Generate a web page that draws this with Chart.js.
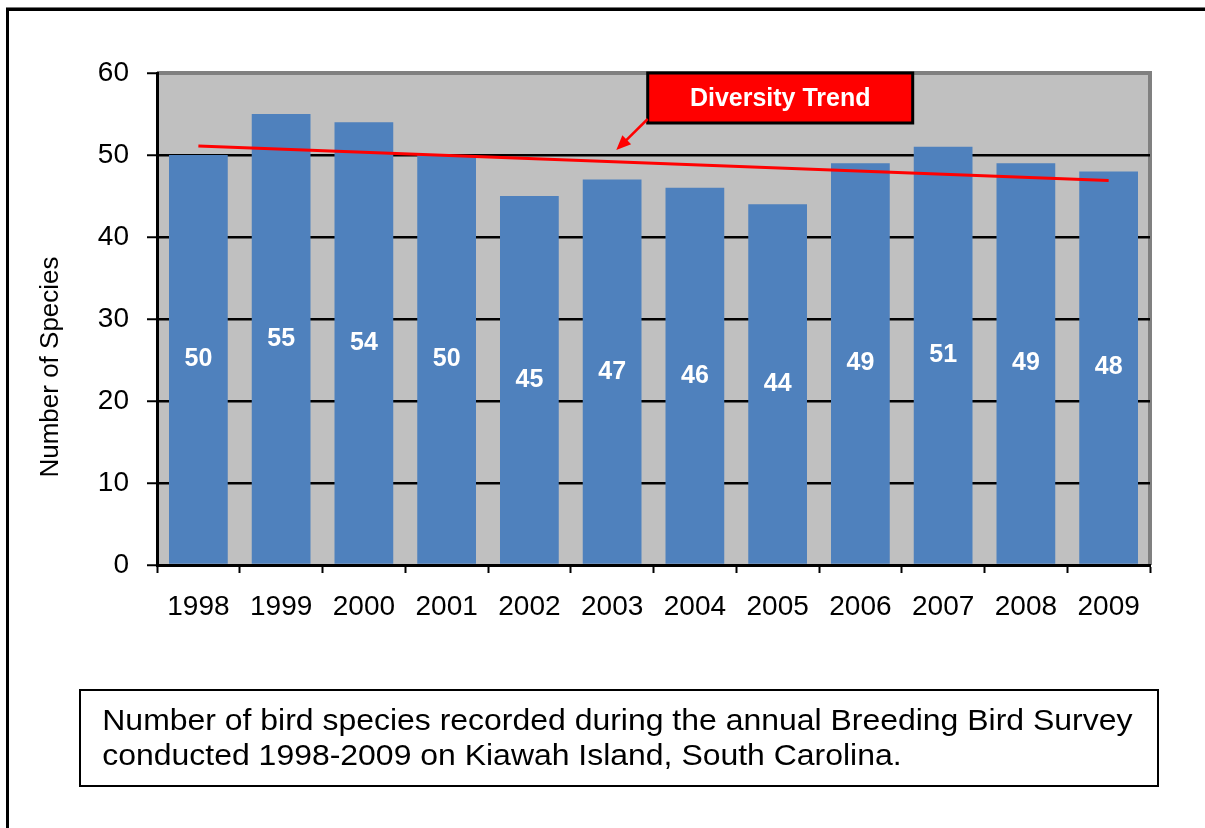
<!DOCTYPE html>
<html>
<head>
<meta charset="utf-8">
<script src="https://cdn.jsdelivr.net/npm/chart.js@4.4.1/dist/chart.umd.min.js"></script>
<style>
  body { margin:0; background:#fff; font-family:"Liberation Sans", Arial, sans-serif; }
  #wrap { position:absolute; left:0; top:0; width:1205px; height:828px; }
  #frame { position:absolute; left:6px; top:8px; width:1300px; height:900px; border-left:3px solid #000; border-top:3px solid #000; box-shadow:0 -1px 0 #777; }
  #caption { position:absolute; left:79px; top:689px; width:1076px; height:94px; border:2px solid #000;
             box-sizing:content-box; font-size:30px; line-height:35px; padding:0; color:#000; }
  #caption div { padding:11px 0 0 20px; transform:scaleX(1.065); transform-origin:0 0; white-space:nowrap; }
</style>
</head>
<body>
<div id="frame"></div>
<div id="wrap"><canvas id="myChart"></canvas></div>
<div id="caption"><div>Number of bird species recorded during the annual Breeding Bird Survey<br>conducted 1998-2009 on Kiawah Island, South Carolina.</div></div>
<script>
const years = ['1998','1999','2000','2001','2002','2003','2004','2005','2006','2007','2008','2009'];
const species = [50, 55, 54, 50, 45, 47, 46, 44, 49, 51, 49, 48];
// trend line ends
const trend = [51.1, null, null, null, null, null, null, null, null, null, null, 46.9];
const yTicks = [0, 10, 20, 30, 40, 50, 60];
const FONT = '"Liberation Sans", Arial, sans-serif';

const plotBg = {
  id: 'plotBg',
  beforeDraw(chart) {
    const {ctx, chartArea: a} = chart;
    ctx.save();
    ctx.fillStyle = '#c0c0c0';
    ctx.fillRect(a.left, a.top, a.right - a.left, a.bottom - a.top);
    ctx.fillStyle = '#808080';
    ctx.fillRect(a.left, a.top - 2, a.right - a.left + 2, 4);
    ctx.fillRect(a.right - 2, a.top - 2, 4, a.bottom - a.top + 2);
    ctx.restore();
  }
};

const yTitle = {
  id: 'yTitle',
  afterDraw(chart) {
    const ctx = chart.ctx;
    ctx.save();
    ctx.translate(51, 367);
    ctx.rotate(-Math.PI / 2);
    ctx.fillStyle = '#000';
    ctx.font = '26px ' + FONT;
    ctx.textAlign = 'center';
    ctx.textBaseline = 'middle';
    ctx.fillText('Number of Species', 0, 0);
    ctx.restore();
  }
};

const barLabels = {
  id: 'barLabels',
  afterDatasetsDraw(chart) {
    const ctx = chart.ctx;
    const meta = chart.getDatasetMeta(0);
    ctx.save();
    ctx.fillStyle = '#fff';
    ctx.font = 'bold 25px ' + FONT;
    ctx.textAlign = 'center';
    ctx.textBaseline = 'middle';
    meta.data.forEach((bar, i) => {
      ctx.fillText(String(species[i]), bar.x, (bar.y + bar.base) / 2);
    });
    ctx.restore();
  }
};

const trendNote = {
  id: 'trendNote',
  afterDraw(chart) {
    const ctx = chart.ctx;
    const x = chart.scales.x, y = chart.scales.y;
    const bx = x.getPixelForValue(5.43), bw = 265;
    const by = y.getPixelForValue(60), bh = 50;
    ctx.save();
    ctx.fillStyle = '#ff0000';
    ctx.fillRect(bx, by, bw, bh);
    ctx.strokeStyle = '#000';
    ctx.lineWidth = 3;
    ctx.strokeRect(bx, by, bw, bh);
    ctx.fillStyle = '#fff';
    ctx.font = 'bold 25px ' + FONT;
    ctx.textAlign = 'center';
    ctx.textBaseline = 'middle';
    ctx.fillText('Diversity Trend', bx + bw / 2, by + bh / 2 + 1);
    // arrow
    const x0 = bx, y0 = by + bh - 4;
    const x1 = x.getPixelForValue(5.05), y1 = y.getPixelForValue(50.6);
    ctx.strokeStyle = '#ff0000';
    ctx.lineWidth = 2.5;
    ctx.beginPath(); ctx.moveTo(x0, y0); ctx.lineTo(x1 + 6, y1 - 6); ctx.stroke();
    const ang = Math.atan2(y1 - y0, x1 - x0);
    ctx.fillStyle = '#ff0000';
    ctx.beginPath();
    ctx.moveTo(x1, y1);
    ctx.lineTo(x1 - 16 * Math.cos(ang - 0.4), y1 - 16 * Math.sin(ang - 0.4));
    ctx.lineTo(x1 - 16 * Math.cos(ang + 0.4), y1 - 16 * Math.sin(ang + 0.4));
    ctx.closePath(); ctx.fill();
    ctx.restore();
  }
};

const data = {
  labels: years,
  datasets: [
    {
      type: 'bar',
      label: 'Species',
      data: species,
      backgroundColor: '#4f81bd',
      categoryPercentage: 1,
      barPercentage: 0.71,
      order: 2
    },
    {
      type: 'line',
      label: 'Diversity Trend',
      data: trend,
      spanGaps: true,
      borderColor: '#ff0000',
      borderWidth: 3,
      pointRadius: 0,
      order: 1
    }
  ]
};

const config = {
  data: data,
  options: {
    responsive: true,
    maintainAspectRatio: false,
    animation: false,
    layout: { padding: { left: 37, top: 73, right: 55, bottom: 203 } },
    plugins: { legend: { display: false }, tooltip: { enabled: false } },
    scales: {
      x: {
        grid: { color: 'transparent', tickColor: '#000', tickLength: 8, tickWidth: 2, offset: true },
        border: { color: '#000', width: 3 },
        ticks: { color: '#000', font: { family: FONT, size: 28 }, padding: 17, maxRotation: 0 },
        afterFit(scale) { scale.height = 60; }
      },
      y: {
        min: 0, max: 60,
        afterBuildTicks(scale) { scale.ticks = yTicks.map(v => ({ value: v })); },
        grid: {
          color: ctx => (ctx.tick && (ctx.tick.value === 60 || ctx.tick.value === 0)) ? 'transparent' : '#000',
          lineWidth: 2.5, tickColor: '#000', tickLength: 10, tickWidth: 2
        },
        border: { color: '#000', width: 3 },
        ticks: { color: '#000', font: { family: FONT, size: 28 }, padding: 18 },
        afterFit(scale) { scale.width = 120; }
      }
    }
  },
  plugins: [plotBg, barLabels, trendNote, yTitle]
};

const myChart = new Chart(document.getElementById('myChart'), config);
</script>
</body>
</html>
